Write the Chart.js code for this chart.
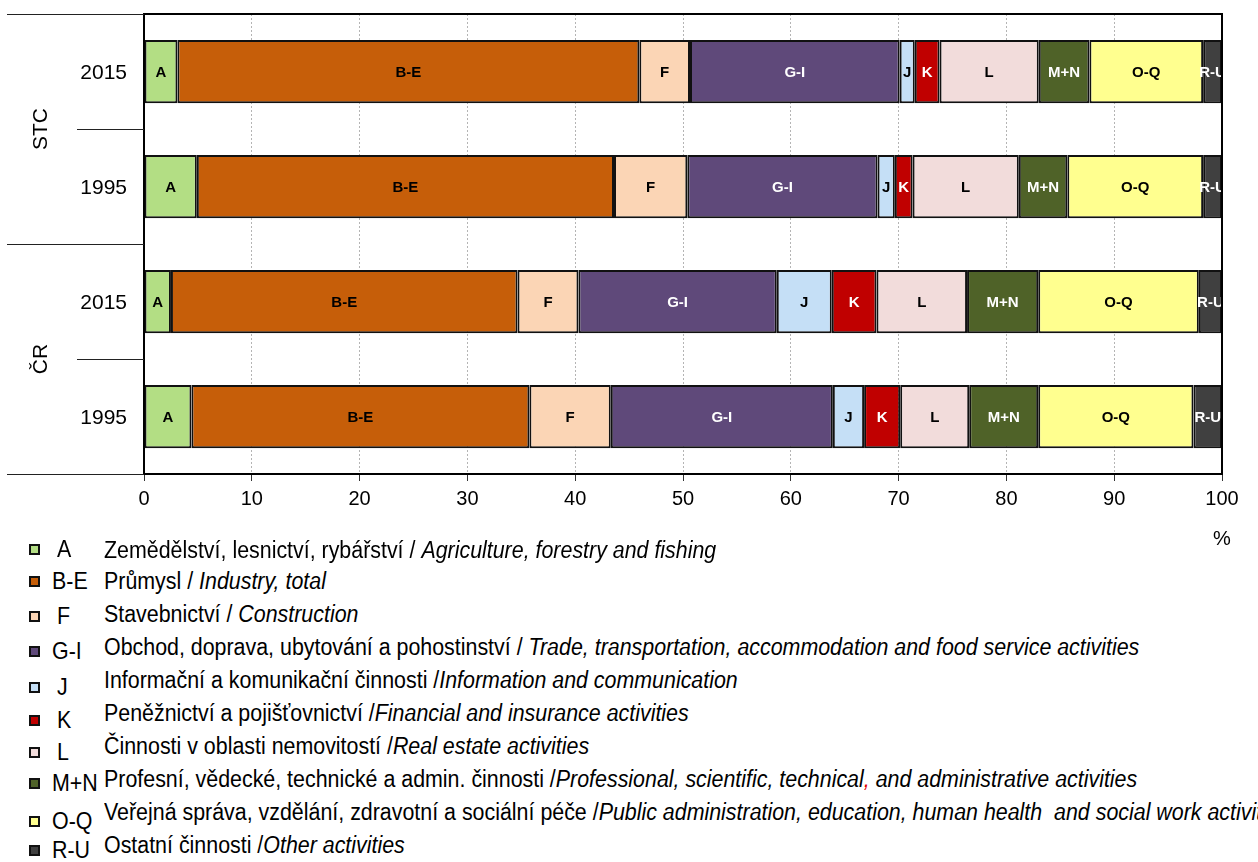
<!DOCTYPE html>
<html>
<head>
<meta charset="utf-8">
<script src="https://cdn.jsdelivr.net/npm/chart.js@4.4.1/dist/chart.umd.min.js"></script>
<style>
  body { margin: 0; background: #fff; overflow: hidden; }
  #wrap { position: relative; width: 1258px; height: 862px; overflow: hidden; font-family: "Liberation Sans", Arial, sans-serif; color: #000; }
  #chartBox { position: absolute; left: 0; top: 0; width: 1258px; height: 550px; }
  .row { position: absolute; left: 0; white-space: nowrap; font-size: 21.4px; line-height: 22px; height: 22px; }
  .mark { position: absolute; width: 7px; height: 7px; border: 2px solid #111; }
  .code, .desc { position: absolute; top: 0; transform: scaleY(1.1); transform-origin: left center; }
  .desc { left: 104px; }
  .desc i { font-style: italic; }
</style>
</head>
<body>
<div id="wrap">
  <div id="chartBox"><canvas id="sectorChart"></canvas></div>
  <div id="legend"></div>
</div>
<script>
// categories (top to bottom: STC 2015, STC 1995, ČR 2015, ČR 1995)
const categories = ['2015', '1995', '2015', '1995'];
const groups = ['STC', 'ČR'];
const sectors = ['A', 'B-E', 'F', 'G-I', 'J', 'K', 'L', 'M+N', 'O-Q', 'R-U'];

// shares of gross value added, %
const stc2015 = [3.1, 42.85, 4.7, 19.45, 1.4, 2.3, 9.2, 4.7, 10.55, 1.75];
const stc1995 = [4.9, 38.7, 6.8, 17.65, 1.6, 1.65, 9.85, 4.5, 12.6, 1.75];
const cr2015 = [2.5, 32.15, 5.65, 18.4, 5.1, 4.15, 8.4, 6.6, 14.9, 2.15];
const cr1995 = [4.4, 31.35, 7.55, 20.6, 2.9, 3.35, 6.4, 6.4, 14.4, 2.65];

const xTicks = [0, 10, 20, 30, 40, 50, 60, 70, 80, 90, 100];

const czNames = [
  'Zemědělství, lesnictví, rybářství / ',
  'Průmysl / ',
  'Stavebnictví / ',
  'Obchod, doprava, ubytování a pohostinství / ',
  'Informační a komunikační činnosti /',
  'Peněžnictví a pojišťovnictví /',
  'Činnosti v oblasti nemovitostí /',
  'Profesní, vědecké, technické a admin. činnosti /',
  'Veřejná správa, vzdělání, zdravotní a sociální péče /',
  'Ostatní činnosti /'
];
const enNames = [
  'Agriculture, forestry and fishing',
  'Industry, total',
  'Construction',
  'Trade, transportation, accommodation and food service activities',
  'Information and communication',
  'Financial and insurance activities',
  'Real estate activities',
  'Professional, scientific, technical<span style="color:#e00000">,</span> and administrative activities',
  'Public administration, education, human health&nbsp; and social work activities',
  'Other activities'
];

const colors = ['#b3de84', '#c65e09', '#fbd5b5', '#5f497a', '#c5dff6', '#c00000', '#f2dcdb', '#4f6228', '#ffff8f', '#404040'];
const labelColors = ['#000', '#000', '#000', '#fff', '#000', '#fff', '#000', '#fff', '#000', '#fff'];
const FONT = '"Liberation Sans", Arial, sans-serif';

const bars = [stc2015, stc1995, cr2015, cr1995];

// bar segment labels
const segLabels = {
  id: 'segLabels',
  afterDatasetsDraw(chart) {
    const ctx = chart.ctx, a = chart.chartArea;
    ctx.save();
    ctx.beginPath();
    ctx.rect(a.left, a.top, a.right - a.left, a.bottom - a.top);
    ctx.clip();
    ctx.font = 'bold 15px ' + FONT;
    ctx.textAlign = 'center';
    ctx.textBaseline = 'middle';
    chart.data.datasets.forEach((ds, i) => {
      ctx.fillStyle = labelColors[i];
      chart.getDatasetMeta(i).data.forEach(bar => {
        ctx.fillText(ds.label, (bar.x + bar.base) / 2, bar.y + 1);
      });
    });
    ctx.restore();
  }
};

// frame, group separators and labels
const frame = {
  id: 'frame',
  afterDraw(chart) {
    const ctx = chart.ctx, a = chart.chartArea;
    const band = (a.bottom - a.top) / categories.length;
    ctx.save();
    ctx.strokeStyle = '#000';
    ctx.lineWidth = 2;
    ctx.strokeRect(a.left, a.top, a.right - a.left, a.bottom - a.top);

    ctx.lineWidth = 1;
    ctx.strokeStyle = '#222';
    for (let k = 0; k <= categories.length; k++) {
      const yy = Math.round(a.top + k * band) + 0.5;
      ctx.beginPath();
      ctx.moveTo(k % 2 === 0 ? 7 : 77, yy);
      ctx.lineTo(a.left, yy);
      ctx.stroke();
    }

    ctx.fillStyle = '#000';
    ctx.font = '21px ' + FONT;
    ctx.textAlign = 'center';
    ctx.textBaseline = 'middle';
    groups.forEach((g, i) => {
      const cy = a.top + band * (2 * i + 1);
      ctx.save();
      ctx.translate(41, cy);
      ctx.rotate(-Math.PI / 2);
      ctx.fillText(g, 0, 0);
      ctx.restore();
    });

    ctx.font = '20px ' + FONT;
    ctx.fillText('%', a.right, 539);
    ctx.restore();
  }
};

new Chart(document.getElementById('sectorChart'), {
  type: 'bar',
  data: {
    labels: categories,
    datasets: sectors.map((s, i) => ({
      label: s,
      data: bars.map(b => b[i]),
      backgroundColor: colors[i],
      borderColor: '#111',
      borderWidth: 2,
      borderSkipped: false,
      barPercentage: 0.55,
      categoryPercentage: 1
    }))
  },
  options: {
    indexAxis: 'y',
    responsive: true,
    maintainAspectRatio: false,
    animation: false,
    layout: { padding: { top: 14, right: 36, left: 0, bottom: 0 } },
    plugins: {
      legend: { display: false },
      tooltip: { enabled: false },
      title: { display: false }
    },
    scales: {
      x: {
        stacked: true,
        min: 0,
        max: 100,
        afterBuildTicks: s => { s.ticks = xTicks.map(v => ({ value: v })); },
        afterFit: s => { s.height = 76; },
        grid: { color: '#b4b4b4', lineWidth: 1, tickLength: 7, tickColor: '#333' },
        border: { display: false, dash: [2, 2] },
        ticks: { color: '#000', font: { size: 20, family: FONT }, padding: 6, maxRotation: 0 }
      },
      y: {
        stacked: true,
        afterFit: s => { s.width = 144; s.paddingTop = 0; s.paddingBottom = 0; },
        grid: { display: false },
        border: { display: false },
        ticks: { color: '#000', font: { size: 21, family: FONT }, padding: 9, labelOffset: 2 }
      }
    }
  },
  plugins: [segLabels, frame]
});

// legend below the chart
const legend = document.getElementById('legend');
const codeShift = [-1, 0, 2, 4, 7, 7, 6, 4, 9, 5];
sectors.forEach((s, i) => {
  const top = 537 + i * 33 + (i === 0 ? 2 : 0);
  const row = document.createElement('div');
  row.className = 'row';
  row.style.top = top + 'px';
  row.innerHTML =
    '<span class="mark" style="left:29px;top:' + (codeShift[i] + 6) + 'px;background:' + colors[i] + '"></span>' +
    '<span class="code" style="left:' + (s.length > 1 ? 52 : 57) + 'px;top:' + codeShift[i] + 'px">' + s + '</span>' +
    '<span class="desc">' + czNames[i] + '<i>' + enNames[i] + '</i></span>';
  legend.appendChild(row);
});
</script>
</body>
</html>
